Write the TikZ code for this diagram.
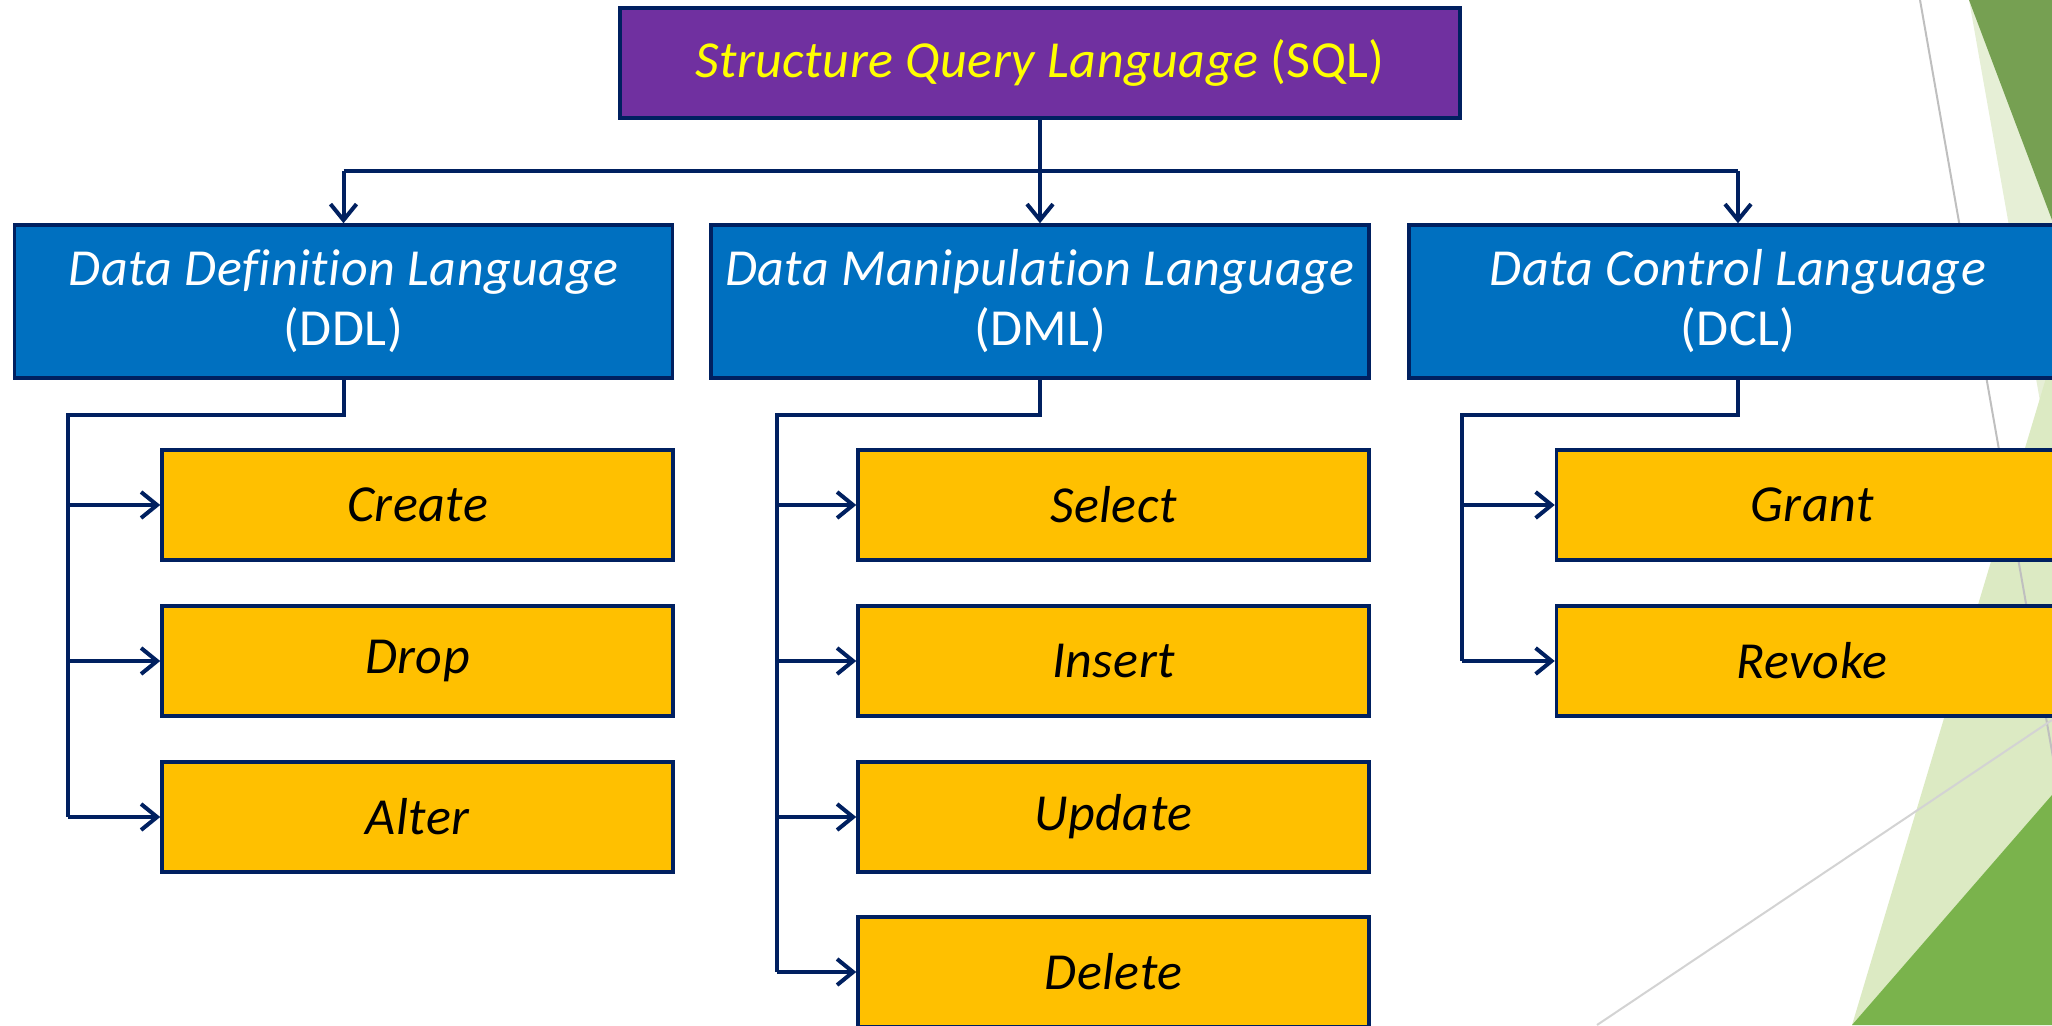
\documentclass[tikz,border=0pt]{standalone}
\usepackage{fontspec}
\setmainfont{Carlito}[Ligatures=NoCommon,LetterSpace=1]
\usetikzlibrary{arrows.meta}
\definecolor{sqlpurple}{HTML}{7030A0}
\definecolor{lvlblue}{HTML}{0070C0}
\definecolor{leafgold}{HTML}{FFC000}
\definecolor{navy}{HTML}{002060}
\definecolor{titleyellow}{HTML}{FFFF00}
\definecolor{greenA}{HTML}{76A052}
\definecolor{greenB}{HTML}{7AB34C}
\definecolor{paleA}{HTML}{E6EFD6}
\definecolor{paleB}{HTML}{DCEAC3}
\definecolor{lineA}{HTML}{BFBFBF}
\definecolor{lineB}{HTML}{D3D3D3}
\begin{document}
\begin{tikzpicture}[x=1pt,y=-1pt,
  basebox/.style={draw=navy,line width=3.5pt,inner sep=0pt,align=center,
    font=\fontsize{52}{60}\selectfont\itshape},
  sqlbox/.style={basebox,fill=sqlpurple,text=titleyellow,minimum width=840pt,minimum height=110pt},
  lvlbox/.style={basebox,fill=lvlblue,text=white,minimum width=658pt,minimum height=153pt},
  leafbox/.style={basebox,fill=leafgold,text=black,minimum width=511pt,minimum height=110pt},
  conn/.style={draw=navy,line width=4pt,line join=miter},
  arr/.style={conn,-{Straight Barb[length=16pt,width=26pt,line width=4pt]}}
]
\useasboundingbox (0,0) rectangle (2052,1025);
\clip (0,0) rectangle (2052,1025);
% background decoration
\fill[paleA] (1969,0) -- (2052,0) -- (2052,469) -- cycle;
\fill[paleB] (1852,1025) -- (2052,358) -- (2052,1025) -- cycle;
\fill[greenA] (1969,0) -- (2052,0) -- (2052,220) -- cycle;
\fill[greenB] (1852,1025) -- (2052,795) -- (2052,1025) -- cycle;
\draw[lineA,line width=2pt] (1920,0) -- (2100,1025);
\draw[lineB,line width=2pt] (1597,1025) -- (2052,720);

% nodes
\node[sqlbox] (sql) at (1040,63) {Structure Query Language \upshape(SQL)};
\node[lvlbox] (ddl) at (343.5,301.5) {Data Definition Language\\\upshape(DDL)};
\node[lvlbox] (dml) at (1040,301.5) {Data Manipulation Language\\\upshape(DML)};
\node[lvlbox] (dcl) at (1738,301.5) {Data Control Language\\\upshape(DCL)};

\node[leafbox] (create) at (417.5,505) {Create};
\node[leafbox] (drop)   at (417.5,661) {Drop};
\node[leafbox] (alter)  at (417.5,817) {Alter};

\node[leafbox] (select) at (1113.5,505) {Select};
\node[leafbox] (insert) at (1113.5,661) {Insert};
\node[leafbox] (update) at (1113.5,817) {Update};
\node[leafbox] (delete) at (1113.5,972) {Delete};

\node[leafbox] (grant)  at (1812,505) {Grant};
\node[leafbox] (revoke) at (1812,661) {Revoke};

% connectors
\coordinate (busy) at (0,171);
\draw[conn] (ddl.north |- busy) -- (dcl.north |- busy);
\draw[arr] (sql.south) -- (dml.north);
\draw[arr] (ddl.north |- busy) -- (ddl.north);
\draw[arr] (dcl.north |- busy) -- (dcl.north);

\coordinate (ddlT) at (68,415);
\coordinate (dmlT) at (777,415);
\coordinate (dclT) at (1462,415);

\draw[conn] (ddl.south) -- (ddl.south |- ddlT) -- (ddlT) -- (ddlT |- alter.west);
\draw[arr] (ddlT |- create.west) -- (create.west);
\draw[arr] (ddlT |- drop.west) -- (drop.west);
\draw[arr] (ddlT |- alter.west) -- (alter.west);

\draw[conn] (dml.south) -- (dml.south |- dmlT) -- (dmlT) -- (dmlT |- delete.west);
\draw[arr] (dmlT |- select.west) -- (select.west);
\draw[arr] (dmlT |- insert.west) -- (insert.west);
\draw[arr] (dmlT |- update.west) -- (update.west);
\draw[arr] (dmlT |- delete.west) -- (delete.west);

\draw[conn] (dcl.south) -- (dcl.south |- dclT) -- (dclT) -- (dclT |- revoke.west);
\draw[arr] (dclT |- grant.west) -- (grant.west);
\draw[arr] (dclT |- revoke.west) -- (revoke.west);
\end{tikzpicture}
\end{document}
